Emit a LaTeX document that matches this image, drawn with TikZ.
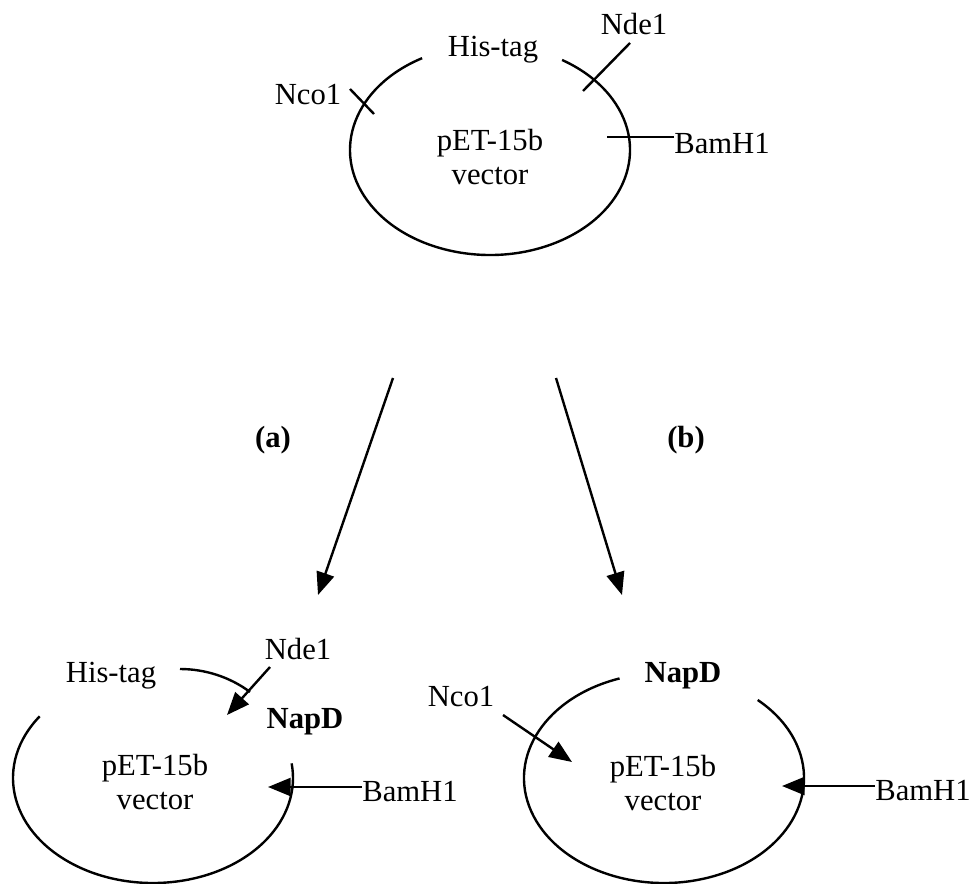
\documentclass[tikz,border=0pt]{standalone}
\usepackage{fontspec}
\setmainfont{Liberation Serif}
\usetikzlibrary{arrows.meta}
\begin{document}
\begin{tikzpicture}[x=0.75pt, y=-0.75pt,
  lbl/.style={inner sep=0pt, font=\fontsize{23pt}{25.5pt}\selectfont},
  blbl/.style={lbl, font=\fontsize{23pt}{25.5pt}\selectfont\bfseries},
  vec/.style={lbl, align=center},
  ring/.style={line width=1.8pt},
  tick/.style={line width=1.8pt},
  arr/.style={line width=1.8pt, -{Triangle[length=17pt, width=13.5pt]}}]
\useasboundingbox (0,0) rectangle (977,884);

% ---------- parent vector ----------
\coordinate (tc) at (490,150);
\draw[ring] (tc) ++(-119:140 and 105) arc[start angle=-119, end angle=-419, x radius=140, y radius=105];
\node[vec] (tvec) at (490,157) {pET-15b\\vector};
\node[lbl] (this) at (493,50) {His-tag};
\node[lbl] (tnco) at (308,95) {Nco1};
\node[lbl] (tnde) at (634,24) {Nde1};
\node[lbl] (tbam) at (722,144) {BamH1};
\coordinate (tncoa) at (350,89);
\coordinate (tncob) at (374,114);
\draw[tick] (tncoa) -- (tncob);
\coordinate (tndea) at (630,43);
\coordinate (tndeb) at (583,91);
\draw[tick] (tndea) -- (tndeb);
\coordinate (tbamend) at (607,137);
\draw[tick] (tbam.west |- tbamend) -- (tbamend);

% ---------- cloning routes ----------
\coordinate (ra) at (393,378);
\coordinate (ta) at (318,595);
\coordinate (rb) at (556,378);
\coordinate (tb) at (622,595);
\draw[arr] (ra) -- (ta);
\draw[arr] (rb) -- (tb);
\node[blbl] (la) at (273,440) {(a)};
\node[blbl] (lb) at (686,440) {(b)};

% ---------- construct (a) ----------
\coordinate (ac) at (153,778);
\draw[ring] (ac) ++(-144:140 and 105) arc[start angle=-144, end angle=-368, x radius=140, y radius=105];
\coordinate (ahisa) at (180,669);
\coordinate (ahisb) at (250,692);
\draw[ring] (ahisa) .. controls (205,669) and (230,677) .. (ahisb);
\node[vec] (avec) at (155,782) {pET-15b\\vector};
\node[lbl] (ahis) at (111,676) {His-tag};
\node[lbl] (ande) at (298,649) {Nde1};
\node[blbl] (anap) at (305,722) {NapD};
\node[lbl] (abam) at (410,792) {BamH1};
\coordinate (andea) at (270,667);
\coordinate (andeb) at (227,715);
\draw[arr] (andea) -- (andeb);
\coordinate (abamtip) at (268,787);
\draw[arr] (abam.west |- abamtip) -- (abamtip);

% ---------- construct (b) ----------
\coordinate (bc) at (664,778);
\draw[ring] (bc) ++(-108.5:140 and 105) arc[start angle=-108.5, end angle=-408, x radius=140, y radius=105];
\node[vec] (bvec) at (663,783) {pET-15b\\vector};
\node[blbl] (bnap) at (683,676) {NapD};
\node[lbl] (bnco) at (461,697) {Nco1};
\node[lbl] (bbam) at (923,791) {BamH1};
\coordinate (bncoa) at (503,715);
\coordinate (bncob) at (572,762);
\draw[arr] (bncoa) -- (bncob);
\coordinate (bbamtip) at (782,786);
\draw[arr] (bbam.west |- bbamtip) -- (bbamtip);
\end{tikzpicture}
\end{document}
